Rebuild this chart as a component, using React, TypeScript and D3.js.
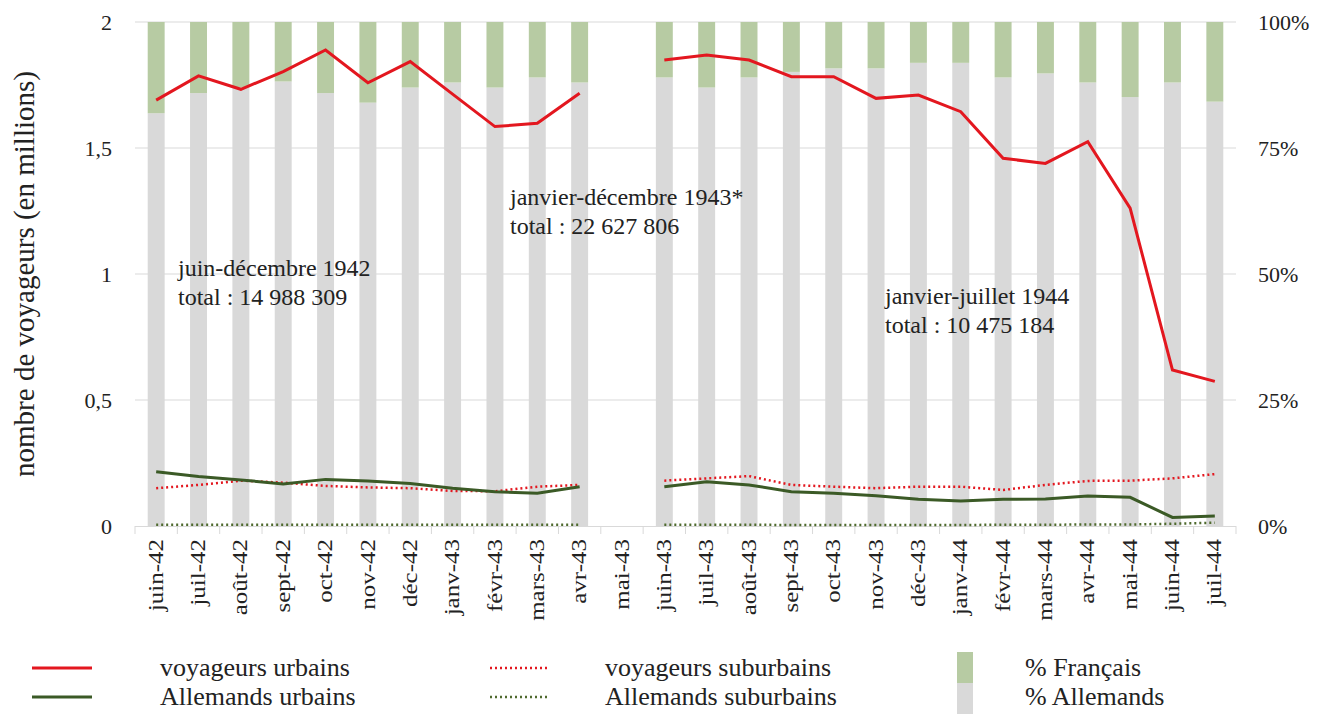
import React from "react";
import * as d3 from "d3";

const months = [
  "juin-42", "juil-42", "août-42", "sept-42", "oct-42", "nov-42", "déc-42",
  "janv-43", "févr-43", "mars-43", "avr-43", "mai-43", "juin-43", "juil-43",
  "août-43", "sept-43", "oct-43", "nov-43", "déc-43", "janv-44", "févr-44",
  "mars-44", "avr-44", "mai-44", "juin-44", "juil-44",
];

// share of German passengers (rest = French)
const pctAllemands: (number | null)[] = [
  0.819, 0.859, 0.870, 0.882, 0.859, 0.840, 0.870, 0.880, 0.870, 0.890, 0.880,
  null, 0.890, 0.870, 0.890, 0.901, 0.908, 0.908, 0.919, 0.919, 0.890, 0.898,
  0.880, 0.851, 0.880, 0.842,
];

const voyageursUrbains: (number | null)[] = [
  1.690, 1.786, 1.733, 1.803, 1.889, 1.759, 1.843, 1.714, 1.585, 1.598, 1.717,
  null, 1.849, 1.869, 1.849, 1.783, 1.783, 1.697, 1.710, 1.644, 1.459, 1.439,
  1.525, 1.261, 0.619, 0.574,
];

const voyageursSuburbains: (number | null)[] = [
  0.150, 0.163, 0.180, 0.172, 0.159, 0.153, 0.150, 0.139, 0.138, 0.156, 0.163,
  null, 0.180, 0.189, 0.198, 0.163, 0.156, 0.150, 0.156, 0.156, 0.143, 0.163,
  0.179, 0.180, 0.189, 0.206,
];

const allemandsUrbains: (number | null)[] = [
  0.215, 0.196, 0.183, 0.167, 0.185, 0.179, 0.169, 0.150, 0.136, 0.130, 0.156,
  null, 0.156, 0.176, 0.163, 0.136, 0.130, 0.120, 0.106, 0.099, 0.106, 0.107,
  0.119, 0.114, 0.034, 0.040,
];

const allemandsSuburbains: (number | null)[] = [
  0.005, 0.005, 0.005, 0.005, 0.005, 0.005, 0.005, 0.005, 0.005, 0.005, 0.005,
  null, 0.005, 0.005, 0.005, 0.004, 0.004, 0.004, 0.004, 0.004, 0.005, 0.005,
  0.006, 0.006, 0.009, 0.013,
];

const leftTicks = [0, 0.5, 1, 1.5, 2];
const leftTickLabels = ["0", "0,5", "1", "1,5", "2"];
const rightTicks = [0, 0.25, 0.5, 0.75, 1];
const rightTickLabels = ["0%", "25%", "50%", "75%", "100%"];

const annotations = [
  { lines: ["juin-décembre 1942", "total : 14 988 309"], x: 178, y: 276 },
  { lines: ["janvier-décembre 1943*", "total : 22 627 806"], x: 510, y: 205 },
  { lines: ["janvier-juillet 1944", "total : 10 475 184"], x: 885, y: 304 },
];

const RED = "#e3171f";
const DKGREEN = "#3b5a26";
const LTGREEN = "#b7cba3";
const GREY = "#d9d9d9";
const FONT = "'Liberation Serif', 'DejaVu Serif', serif";

export default function App() {
  const W = 1338;
  const H = 715;
  const x = d3
    .scaleBand<string>()
    .domain(months)
    .range([135, 1236])
    .paddingInner(0.6)
    .paddingOuter(0.3);
  const step = x.step();
  const yL = d3.scaleLinear().domain([0, 2]).range([526, 22]);
  const yR = d3.scaleLinear().domain([0, 1]).range([526, 22]);
  const cx = (m: string) => (x(m) as number) + x.bandwidth() / 2;

  const lineGen = d3
    .line<number | null>()
    .defined((d) => d != null)
    .x((_, i) => cx(months[i]))
    .y((d) => yL(d as number));

  const boundaries = months.map((_, i) => 135 + i * step);
  boundaries.push(1236);

  const ts = { fontFamily: FONT };

  return (
    <svg
      width={W}
      height={H}
      style={{ position: "absolute", left: 0, top: 0, background: "#fff", fontFamily: FONT }}
    >
      {leftTicks.slice(1).map((t) => (
        <line key={t} x1={135} x2={1236} y1={yL(t)} y2={yL(t)} stroke={GREY} strokeWidth={1} />
      ))}
      {months.map((m, i) => {
        const p = pctAllemands[i];
        if (p == null) return null;
        return (
          <g key={m}>
            <rect x={x(m)} width={x.bandwidth()} y={yR(p)} height={yR(0) - yR(p)} fill={GREY} />
            <rect x={x(m)} width={x.bandwidth()} y={yR(1)} height={yR(p) - yR(1)} fill={LTGREEN} />
          </g>
        );
      })}
      <line x1={135} x2={1236} y1={526.5} y2={526.5} stroke={GREY} strokeWidth={1} />
      {boundaries.map((b, i) => (
        <line key={i} x1={b} x2={b} y1={526} y2={534} stroke={GREY} strokeWidth={1} />
      ))}
      <path d={lineGen(allemandsSuburbains) || ""} fill="none" stroke="#4f6a2e" strokeWidth={2.5} strokeDasharray="2 3" />
      <path d={lineGen(voyageursSuburbains) || ""} fill="none" stroke={RED} strokeWidth={2.5} strokeDasharray="2 3" />
      <path d={lineGen(allemandsUrbains) || ""} fill="none" stroke={DKGREEN} strokeWidth={3} />
      <path d={lineGen(voyageursUrbains) || ""} fill="none" stroke={RED} strokeWidth={3} />

      {leftTicks.map((t, i) => (
        <text key={t} style={ts} x={112} y={yL(t)} textAnchor="end" dominantBaseline="central" fontSize={22} fill="#222">
          {leftTickLabels[i]}
        </text>
      ))}
      {rightTicks.map((t, i) => (
        <text key={t} style={ts} x={1258} y={yR(t)} textAnchor="start" dominantBaseline="central" fontSize={22} fill="#222">
          {rightTickLabels[i]}
        </text>
      ))}
      <text
        style={ts}
        transform={`translate(24,274) rotate(-90)`}
        textAnchor="middle"
        dominantBaseline="central"
        fontSize={29}
        fill="#222"
      >
        nombre de voyageurs (en millions)
      </text>
      {months.map((m) => (
        <text
          key={m}
          style={ts}
          transform={`translate(${cx(m)},539) rotate(-90) scale(1,0.8)`}
          textAnchor="end"
          dominantBaseline="central"
          fontSize={25}
          fill="#222"
        >
          {m}
        </text>
      ))}
      {annotations.map((a, k) => (
        <g key={k}>
          {a.lines.map((l, j) => (
            <text key={j} style={ts} x={a.x} y={a.y + j * 29} fontSize={24} fill="#222">
              {l}
            </text>
          ))}
        </g>
      ))}
      <line x1={32} x2={92} y1={668} y2={668} stroke={RED} strokeWidth={3} />
      <text style={ts} x={160} y={676} fontSize={26} fill="#222">voyageurs urbains</text>
      <line x1={32} x2={92} y1={697} y2={697} stroke={DKGREEN} strokeWidth={3} />
      <text style={ts} x={160} y={705} fontSize={26} fill="#222">Allemands urbains</text>
      <line x1={490} x2={550} y1={668} y2={668} stroke={RED} strokeWidth={2.5} strokeDasharray="2 3" />
      <text style={ts} x={605} y={676} fontSize={26} fill="#222">voyageurs suburbains</text>
      <line x1={490} x2={550} y1={697} y2={697} stroke="#4f6a2e" strokeWidth={2.5} strokeDasharray="2 3" />
      <text style={ts} x={605} y={705} fontSize={26} fill="#222">Allemands suburbains</text>
      <rect x={957} y={652} width={16} height={31} fill={LTGREEN} />
      <text style={ts} x={1025} y={676} fontSize={26} fill="#222">% Français</text>
      <rect x={957} y={683} width={16} height={31} fill={GREY} />
      <text style={ts} x={1025} y={705} fontSize={26} fill="#222">% Allemands</text>
    </svg>
  );
}
